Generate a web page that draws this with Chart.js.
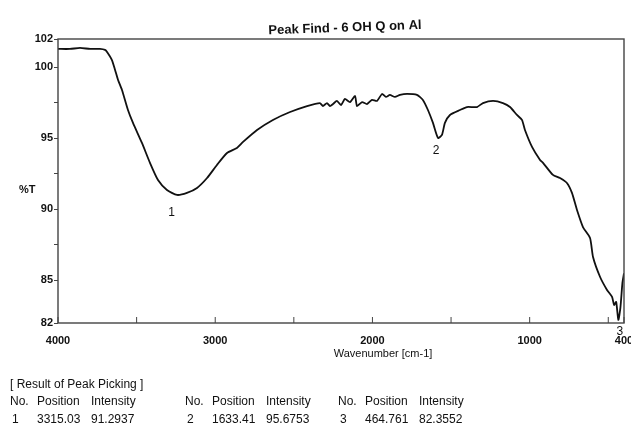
<!DOCTYPE html>
<html>
<head>
<meta charset="utf-8">
<script src="https://cdn.jsdelivr.net/npm/chart.js@4.4.1/dist/chart.umd.min.js"></script>
<style>
  html, body { margin: 0; padding: 0; background: #fff; }
  #wrap { width: 631px; height: 434px; position: relative; }
</style>
</head>
<body>
<div id="wrap"><canvas id="grafico"></canvas></div>
<script>
// spectrum (wavenumber cm-1 / %T)
const wavenumbers = [4000, 3924, 3860, 3796, 3733, 3701, 3688, 3657, 3637, 3618, 3593, 3555, 3523, 3466, 3415, 3364, 3307, 3243, 3180, 3116, 3052, 2989, 2925, 2862, 2823, 2734, 2633, 2524, 2416, 2334, 2315, 2289, 2270, 2251, 2226, 2200, 2175, 2143, 2111, 2098, 2066, 2035, 2003, 1971, 1939, 1914, 1889, 1857, 1825, 1780, 1717, 1679, 1647, 1615, 1583, 1558, 1539, 1507, 1443, 1399, 1335, 1297, 1233, 1170, 1125, 1081, 1049, 1030, 985, 934, 915, 852, 807, 763, 731, 699, 661, 616, 597, 552, 508, 476, 463, 450, 436, 423, 410, 400];
const transmittance = [101.30, 101.30, 101.37, 101.30, 101.30, 101.23, 101.08, 100.52, 99.82, 99.11, 98.41, 97.00, 96.09, 94.68, 93.28, 92.07, 91.37, 91.02, 91.16, 91.51, 92.21, 93.13, 93.97, 94.33, 94.75, 95.59, 96.30, 96.86, 97.28, 97.49, 97.28, 97.49, 97.28, 97.42, 97.64, 97.35, 97.78, 97.56, 97.99, 97.28, 97.56, 97.42, 97.71, 97.64, 98.13, 97.92, 98.06, 97.92, 98.06, 98.13, 98.06, 97.71, 97.00, 96.09, 95.03, 95.24, 96.09, 96.65, 97.00, 97.21, 97.21, 97.49, 97.64, 97.49, 97.21, 96.65, 96.30, 95.59, 94.40, 93.48, 93.28, 92.43, 92.21, 91.86, 91.16, 89.96, 88.76, 87.99, 86.65, 85.24, 84.33, 83.84, 83.27, 83.49, 82.22, 83.06, 84.82, 85.50];

const peakNo = [1, 2, 3];
const peakPos = ['3315.03', '1633.41', '464.761'];
const peakInt = ['91.2937', '95.6753', '82.3552'];

const xTickVals = [4000, 3500, 3000, 2500, 2000, 1500, 1000, 500, 400];
const xLabelVals = [4000, 3000, 2000, 1000, 400];
const yTickVals = [82, 85, 87.5, 90, 92.5, 95, 97.5, 100, 102];
const yLabelVals = [82, 85, 90, 95, 100, 102];

const FONT = "'Liberation Sans Narrow', 'Liberation Sans', Arial, sans-serif";

const decor = {
    id: 'decor',
    afterDraw(chart) {
        const c = chart.ctx;
        const a = chart.chartArea;
        const xs = chart.scales.x;
        const ys = chart.scales.y;
        c.save();
        // frame
        c.strokeStyle = '#444';
        c.lineWidth = 1.4;
        c.strokeRect(a.left, a.top, a.right - a.left, a.bottom - a.top);
        // inward x ticks
        c.lineWidth = 1;
        xs.ticks.forEach(t => {
            const px = xs.getPixelForValue(t.value);
            c.beginPath();
            c.moveTo(px, a.bottom);
            c.lineTo(px, a.bottom - 6);
            c.stroke();
        });
        c.fillStyle = '#111';
        // title
        c.save();
        c.translate(345, 28);
        c.rotate(-0.035);
        c.font = 'bold 13px ' + FONT;
        c.textAlign = 'center';
        c.textBaseline = 'middle';
        c.fillText('Peak Find - 6 OH Q on Al', 0, 0);
        c.restore();
        // axis titles
        c.font = 'bold 11px ' + FONT;
        c.textAlign = 'left';
        c.textBaseline = 'middle';
        c.fillText('%T', 19, 190);
        c.font = '11px ' + FONT;
        c.textAlign = 'center';
        c.fillText('Wavenumber [cm-1]', 383, 354);
        // peak numbers
        c.font = '12px ' + FONT;
        peakNo.forEach((n, i) => {
            const px = xs.getPixelForValue(Number(peakPos[i]));
            const py = ys.getPixelForValue(Number(peakInt[i]));
            const dy = i === 2 ? 14 : 22;
            c.fillText(String(n), px + 6, py + dy);
        });
        // peak table
        c.textAlign = 'left';
        c.font = '12px ' + FONT;
        c.fillText('[ Result of Peak Picking ]', 10, 385);
        const gx = [10, 185, 338];
        peakNo.forEach((n, i) => {
            c.fillText('No.', gx[i], 402);
            c.fillText('Position', gx[i] + 27, 402);
            c.fillText('Intensity', gx[i] + 81, 402);
            c.fillText(String(n), gx[i] + 2, 420);
            c.fillText(peakPos[i], gx[i] + 27, 420);
            c.fillText(peakInt[i], gx[i] + 81, 420);
        });
        c.restore();
    }
};

const ctx = document.getElementById('grafico');

const grafico = new Chart(ctx, {
    type: 'line',
    data: {
        datasets: [{
            data: wavenumbers.map((w, i) => ({ x: w, y: transmittance[i] })),
            borderColor: '#111',
            borderWidth: 1.8,
            pointRadius: 0,
            tension: 0.2,
            fill: false
        }]
    },
    options: {
        responsive: true,
        maintainAspectRatio: false,
        animation: false,
        layout: { padding: { left: 0, top: 39, right: 7, bottom: 81 } },
        plugins: {
            legend: { display: false },
            tooltip: { enabled: false }
        },
        scales: {
            x: {
                type: 'linear',
                reverse: true,
                min: 400,
                max: 4000,
                afterBuildTicks: s => { s.ticks = xTickVals.map(v => ({ value: v })); },
                afterFit: s => { s.height = 30; s.paddingLeft = 0; s.paddingRight = 0; },
                grid: { display: false, drawTicks: false },
                border: { display: false },
                ticks: {
                    autoSkip: false,
                    maxRotation: 0,
                    padding: 11,
                    color: '#111',
                    font: { family: FONT, size: 11, weight: 'bold' },
                    callback: v => xLabelVals.includes(v) ? String(v) : ''
                }
            },
            y: {
                min: 82,
                max: 102,
                afterBuildTicks: s => { s.ticks = yTickVals.map(v => ({ value: v })); },
                afterFit: s => { s.width = 58; },
                grid: { drawOnChartArea: false, tickLength: 4, color: '#444' },
                border: { display: false },
                ticks: {
                    autoSkip: false,
                    padding: 1,
                    color: '#111',
                    font: { family: FONT, size: 11, weight: 'bold' },
                    callback: v => yLabelVals.includes(v) ? String(v) : ''
                }
            }
        }
    },
    plugins: [decor]
});
</script>
</body>
</html>
